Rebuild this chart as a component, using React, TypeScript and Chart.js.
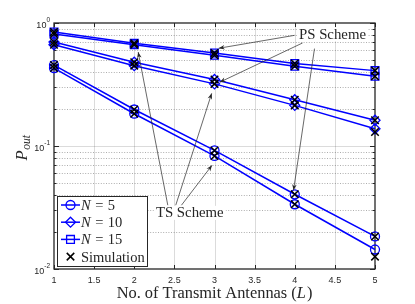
import React, { useEffect, useRef } from 'react';
import { Chart, registerables } from 'chart.js';
Chart.register(...registerables);

// ---- data ----
const antennas = [1, 2, 3, 4, 5];
const n5PS = [0.455, 0.198, 0.092, 0.0405, 0.0184];
const n5TS = [0.43, 0.183, 0.083, 0.0336, 0.0144];
const n10PS = [0.7, 0.48, 0.347, 0.238, 0.162];
const n10TS = [0.665, 0.45, 0.32, 0.214, 0.138];
const n15PS = [0.845, 0.685, 0.57, 0.468, 0.41];
const n15TS = [0.815, 0.665, 0.546, 0.445, 0.369];
const sim5PS = [0.455, 0.198, 0.092, 0.0405, 0.0184];
const sim5TS = [0.43, 0.183, 0.083, 0.0336, 0.0126];
const sim10PS = [0.7, 0.48, 0.347, 0.238, 0.162];
const sim10TS = [0.665, 0.45, 0.32, 0.214, 0.13];
const sim15PS = [0.845, 0.685, 0.57, 0.468, 0.41];
const sim15TS = [0.815, 0.665, 0.546, 0.445, 0.369];

const xTicks = [1, 1.5, 2, 2.5, 3, 3.5, 4, 4.5, 5];
const xTickLabels = ['1', '1.5', '2', '2.5', '3', '3.5', '4', '4.5', '5'];
const yMajorTicks = [0.01, 0.1, 1];
const yTickExponents = ['-2', '-1', '0'];
const legendNs = ['5', '10', '15'];
const legendStyles = ['circle', 'rectRot', 'rect'];

// annotations in data coordinates
const psLabel = { text: 'PS Scheme', x: 4.47, y: 0.81 };
const psArrows = [
  { from: [3.998, 0.794], to: [3.052, 0.623] },
  { from: [4.097, 0.688], to: [3.065, 0.33] },
  { from: [4.246, 0.619], to: [3.985, 0.0436] },
];
const tsLabel = { text: 'TS Scheme', x: 2.692, y: 0.0286 };
const tsArrows = [
  { from: [2.418, 0.033], to: [2.049, 0.581] },
  { from: [2.517, 0.033], to: [2.965, 0.268] },
  { from: [2.588, 0.033], to: [2.969, 0.0697] },
];

const W = 415, H = 304;
const BLUE = '#0000ff';
const AXC = '#262626';
const SERIF = '"Liberation Serif", "DejaVu Serif", serif';
const SANS = '"Liberation Sans", Arial, sans-serif';

function drawMarker(ctx: CanvasRenderingContext2D, style: string, x: number, y: number) {
  ctx.beginPath();
  if (style === 'circle') {
    ctx.arc(x, y, 4.5, 0, Math.PI * 2);
  } else if (style === 'rectRot') {
    const r = 5;
    ctx.moveTo(x, y - r); ctx.lineTo(x + r, y); ctx.lineTo(x, y + r); ctx.lineTo(x - r, y); ctx.closePath();
  } else if (style === 'rect') {
    const s = 5.5 * Math.SQRT1_2;
    ctx.rect(x - s, y - s, 2 * s, 2 * s);
  } else if (style === 'crossRot') {
    const s = 5.3 * Math.SQRT1_2;
    ctx.moveTo(x - s, y - s); ctx.lineTo(x + s, y + s);
    ctx.moveTo(x - s, y + s); ctx.lineTo(x + s, y - s);
  }
  ctx.stroke();
}

function line(ctx: CanvasRenderingContext2D, x1: number, y1: number, x2: number, y2: number) {
  ctx.beginPath(); ctx.moveTo(x1, y1); ctx.lineTo(x2, y2); ctx.stroke();
}

const gridPlugin = {
  id: 'matlabGrid',
  beforeDatasetsDraw(chart: any) {
    const { ctx, chartArea: a, scales } = chart;
    const xs = scales.x, ys = scales.y;
    ctx.save();
    ctx.lineWidth = 1;
    // vertical grid
    ctx.strokeStyle = 'rgba(0,0,0,0.14)';
    xTicks.forEach((v) => {
      const px = Math.round(xs.getPixelForValue(v)) + 0.5;
      if (px > a.left + 1 && px < a.right - 1) line(ctx, px, a.top, px, a.bottom);
    });
    // horizontal major grid
    yMajorTicks.forEach((v) => {
      const py = Math.round(ys.getPixelForValue(v)) + 0.5;
      if (py > a.top + 1 && py < a.bottom - 1) line(ctx, a.left, py, a.right, py);
    });
    // minor grid dotted
    ctx.strokeStyle = 'rgba(0,0,0,0.32)';
    ctx.setLineDash([1, 1.6]);
    for (let i = 0; i < yMajorTicks.length - 1; i++) {
      for (let k = 2; k <= 9; k++) {
        const py = Math.round(ys.getPixelForValue(k * yMajorTicks[i])) + 0.5;
        line(ctx, a.left, py, a.right, py);
      }
    }
    ctx.setLineDash([]);
    // box
    ctx.strokeStyle = AXC;
    ctx.lineWidth = 1.3;
    ctx.strokeRect(a.left, a.top, a.right - a.left, a.bottom - a.top);
    // ticks
    ctx.lineWidth = 1;
    xTicks.forEach((v) => {
      const px = Math.round(xs.getPixelForValue(v)) + 0.5;
      line(ctx, px, a.bottom, px, a.bottom - 4);
      line(ctx, px, a.top, px, a.top + 4);
    });
    yMajorTicks.forEach((v) => {
      const py = Math.round(ys.getPixelForValue(v)) + 0.5;
      line(ctx, a.left, py, a.left + 5, py);
      line(ctx, a.right, py, a.right - 5, py);
    });
    for (let i = 0; i < yMajorTicks.length - 1; i++) {
      for (let k = 2; k <= 9; k++) {
        const py = Math.round(ys.getPixelForValue(k * yMajorTicks[i])) + 0.5;
        line(ctx, a.left, py, a.left + 2.5, py);
        line(ctx, a.right, py, a.right - 2.5, py);
      }
    }
    // x tick labels
    ctx.fillStyle = AXC;
    ctx.font = `9px ${SANS}`;
    ctx.textAlign = 'center';
    ctx.textBaseline = 'middle';
    xTicks.forEach((v, i) => {
      ctx.fillText(xTickLabels[i], xs.getPixelForValue(v), a.bottom + 11.5);
    });
    // y tick labels 10^k
    yMajorTicks.forEach((v, i) => {
      const py = ys.getPixelForValue(v);
      ctx.font = `6.5px ${SANS}`;
      const ew = ctx.measureText(yTickExponents[i]).width;
      ctx.textAlign = 'left';
      ctx.textBaseline = 'alphabetic';
      const right = a.left - 4;
      ctx.fillText(yTickExponents[i], right - ew, py - 1);
      ctx.font = `9px ${SANS}`;
      ctx.textAlign = 'right';
      ctx.fillText('10', right - ew, py + 4.5);
    });
    ctx.restore();
  },
};

function arrow(ctx: CanvasRenderingContext2D, x1: number, y1: number, x2: number, y2: number) {
  line(ctx, x1, y1, x2, y2);
  const ang = Math.atan2(y2 - y1, x2 - x1);
  const L = 6, hw = 2.3;
  ctx.beginPath();
  ctx.moveTo(x2, y2);
  ctx.lineTo(x2 - L * Math.cos(ang) + hw * Math.sin(ang), y2 - L * Math.sin(ang) - hw * Math.cos(ang));
  ctx.lineTo(x2 - 0.7 * L * Math.cos(ang), y2 - 0.7 * L * Math.sin(ang));
  ctx.lineTo(x2 - L * Math.cos(ang) - hw * Math.sin(ang), y2 - L * Math.sin(ang) + hw * Math.cos(ang));
  ctx.closePath();
  ctx.fill();
}

const overlayPlugin = {
  id: 'overlay',
  afterDraw(chart: any) {
    const { ctx, chartArea: a, scales } = chart;
    const xs = scales.x, ys = scales.y;
    ctx.save();
    // annotations
    ctx.strokeStyle = AXC;
    ctx.fillStyle = AXC;
    ctx.lineWidth = 0.7;
    [...psArrows, ...tsArrows].forEach((ar) => {
      arrow(ctx, xs.getPixelForValue(ar.from[0]), ys.getPixelForValue(ar.from[1]),
        xs.getPixelForValue(ar.to[0]), ys.getPixelForValue(ar.to[1]));
    });
    [psLabel, tsLabel].forEach((lb) => {
      const cx = xs.getPixelForValue(lb.x), cy = ys.getPixelForValue(lb.y);
      ctx.font = `14.8px ${SERIF}`;
      const w = ctx.measureText(lb.text).width;
      ctx.fillStyle = '#fff';
      ctx.fillRect(cx - w / 2 - 2, cy - 7, w + 4, 14);
      ctx.fillStyle = AXC;
      ctx.textAlign = 'center';
      ctx.textBaseline = 'middle';
      ctx.fillText(lb.text, cx, cy + 0.5);
    });

    // legend
    const lx = a.left + 3, ly = a.bottom - 73;
    ctx.fillStyle = '#fff';
    ctx.fillRect(lx, ly, 91, 71);
    ctx.strokeStyle = AXC;
    ctx.lineWidth = 1;
    ctx.strokeRect(lx + 0.5, ly + 0.5, 90, 70);
    const rowY = (i: number) => ly + 9 + i * 17.2;
    legendNs.forEach((n, i) => {
      const y = rowY(i);
      ctx.strokeStyle = BLUE;
      ctx.lineWidth = 1.5;
      line(ctx, lx + 4, y, lx + 23, y);
      ctx.lineWidth = 1.3;
      drawMarker(ctx, legendStyles[i], lx + 13.5, y);
      ctx.fillStyle = AXC;
      ctx.textAlign = 'left';
      ctx.textBaseline = 'alphabetic';
      ctx.font = `italic 14.5px ${SERIF}`;
      let tx = lx + 24;
      ctx.fillText('N', tx, y + 5);
      tx += ctx.measureText('N').width + 4.5;
      ctx.font = `14.5px ${SERIF}`;
      ctx.fillText('=', tx, y + 5);
      tx += ctx.measureText('=').width + 4.5;
      ctx.fillText(n, tx, y + 5);
    });
    {
      const y = rowY(3);
      ctx.strokeStyle = '#000';
      ctx.lineWidth = 1.5;
      drawMarker(ctx, 'crossRot', lx + 13.5, y);
      ctx.fillStyle = AXC;
      ctx.font = `14.5px ${SERIF}`;
      ctx.textAlign = 'left';
      ctx.fillText('Simulation', lx + 24, y + 5);
    }

    // x axis title
    ctx.fillStyle = AXC;
    ctx.textBaseline = 'middle';
    ctx.textAlign = 'left';
    const p1 = 'No. of Transmit Antennas (', p2 = 'L', p3 = ')';
    ctx.font = `16.4px ${SERIF}`;
    const w1 = ctx.measureText(p1).width, w3 = ctx.measureText(p3).width;
    ctx.font = `italic 16.4px ${SERIF}`;
    const w2 = ctx.measureText(p2).width + 1;
    let sx = (a.left + a.right) / 2 - (w1 + w2 + w3) / 2;
    const ty = a.bottom + 25;
    ctx.font = `16.4px ${SERIF}`;
    ctx.fillText(p1, sx, ty);
    ctx.font = `italic 16.4px ${SERIF}`;
    ctx.fillText(p2, sx + w1, ty);
    ctx.font = `16.4px ${SERIF}`;
    ctx.fillText(p3, sx + w1 + w2, ty);

    // y axis title P_out
    ctx.save();
    ctx.translate(a.left - 27, (a.top + a.bottom) / 2 + 2);
    ctx.rotate(-Math.PI / 2);
    ctx.textBaseline = 'alphabetic';
    ctx.font = `italic 16.5px ${SERIF}`;
    const wp = ctx.measureText('P').width;
    ctx.font = `italic 11.5px ${SERIF}`;
    const wo = ctx.measureText('out').width;
    const start = -(wp + wo) / 2;
    ctx.font = `italic 16.5px ${SERIF}`;
    ctx.fillText('P', start, 0);
    ctx.font = `italic 11.5px ${SERIF}`;
    ctx.fillText('out', start + wp + 0.5, 3);
    ctx.restore();

    ctx.restore();
  },
};

export default function App() {
  const ref = useRef<HTMLCanvasElement>(null);
  useEffect(() => {
    const canvas = ref.current!;
    const toPts = (arr: number[]) => antennas.map((x, i) => ({ x, y: arr[i] }));
    const lineDs = (arr: number[], style: string, radius: number) => ({
      data: toPts(arr),
      borderColor: BLUE,
      backgroundColor: 'rgba(0,0,0,0)',
      borderWidth: 1.5,
      pointStyle: style,
      pointRadius: radius,
      pointBorderColor: BLUE,
      pointBackgroundColor: 'rgba(0,0,0,0)',
      pointBorderWidth: 1.3,
      tension: 0,
      clip: false,
      order: 1,
    });
    const simDs = (arr: number[]) => ({
      data: toPts(arr),
      showLine: false,
      borderColor: '#000',
      pointStyle: 'crossRot',
      pointRadius: 5.3,
      pointBorderColor: '#000',
      pointBackgroundColor: 'rgba(0,0,0,0)',
      pointBorderWidth: 1.5,
      clip: false,
      order: 0,
    });
    const chart = new Chart(canvas, {
      type: 'line',
      data: {
        datasets: [
          lineDs(n5PS, 'circle', 4.5),
          lineDs(n5TS, 'circle', 4.5),
          lineDs(n10PS, 'rectRot', 5),
          lineDs(n10TS, 'rectRot', 5),
          lineDs(n15PS, 'rect', 5.5),
          lineDs(n15TS, 'rect', 5.5),
          simDs(sim5PS),
          simDs(sim5TS),
          simDs(sim10PS),
          simDs(sim10TS),
          simDs(sim15PS),
          simDs(sim15TS),
        ] as any,
      },
      options: {
        responsive: false,
        animation: false,
        devicePixelRatio: 1,
        layout: { padding: { left: 54, right: 40, top: 23, bottom: 35 } },
        plugins: { legend: { display: false }, tooltip: { enabled: false } },
        scales: {
          x: { type: 'linear', min: 1, max: 5, display: false },
          y: { type: 'logarithmic', min: 0.01, max: 1, display: false },
        },
      } as any,
      plugins: [gridPlugin, overlayPlugin],
    });
    return () => chart.destroy();
  }, []);
  return (
    <div style={{ position: 'absolute', left: 0, top: 0, width: W, height: H, background: '#fff' }}>
      <canvas ref={ref} width={W} height={H} style={{ display: 'block' }} />
    </div>
  );
}
